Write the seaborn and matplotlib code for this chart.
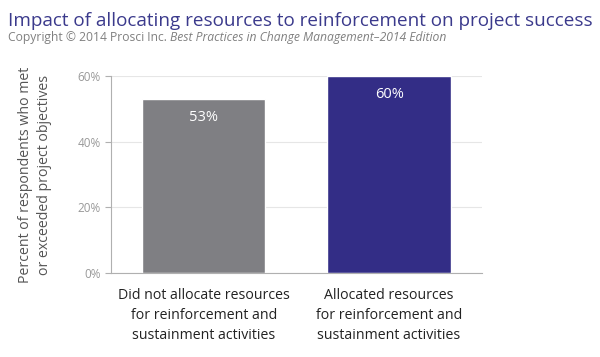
import matplotlib
matplotlib.use('Agg')
import matplotlib.pyplot as plt
import seaborn as sns
import pandas as pd
from matplotlib.ticker import FuncFormatter

categories = ['Did not allocate resources\nfor reinforcement and\nsustainment activities',
              'Allocated resources\nfor reinforcement and\nsustainment activities']
values = [53, 60]
bar_colors = ['#7f7f83', '#332d86']
y_ticks = [0, 20, 40, 60]

df = pd.DataFrame({'group': categories, 'pct': values})

sns.set_style('white')
plt.rcParams['font.family'] = ['Open Sans', 'DejaVu Sans']

fig = plt.figure(figsize=(6, 3.57), dpi=100)
ax = fig.add_axes([0.185, 0.235, 0.618, 0.552])

sns.barplot(data=df, x='group', y='pct', hue='group', palette=bar_colors,
            width=0.665, saturation=1, legend=False, ax=ax)

ax.set_ylim(0, 60)
ax.set_xlim(-0.5, 1.5)
ax.set_yticks(y_ticks)
ax.yaxis.set_major_formatter(FuncFormatter(lambda v, _: f'{v:.0f}%'))
ax.grid(True, axis='y', color='#e6e6e6', linewidth=0.8)
ax.set_axisbelow(True)

for s in ['top', 'right']:
    ax.spines[s].set_visible(False)
for s in ['left', 'bottom']:
    ax.spines[s].set_color('#b0b0b0')
    ax.spines[s].set_linewidth(0.8)

# ticks at category boundaries on the x axis
ax.set_xticks([-0.5, 0.5, 1.5], minor=True)
ax.tick_params(axis='x', which='minor', length=4, color='#b0b0b0', width=0.8)
ax.tick_params(axis='x', which='major', length=0, labelsize=10.2,
               labelcolor='#222222', pad=11)
for lbl in ax.get_xticklabels():
    lbl.set_linespacing(1.45)
ax.tick_params(axis='y', length=4, color='#b0b0b0', width=0.8,
               labelsize=8.5, labelcolor='#999999', left=True)

ax.set_xlabel('')
ax.set_ylabel('Percent of respondents who met\nor exceeded project objectives',
              fontsize=10.2, color='#555555', labelpad=18, linespacing=1.35)

for i, v in enumerate(values):
    ax.text(i, v - 5.6, f'{v}%', ha='center', va='center', color='white', fontsize=10.5)

fig.text(0.013, 0.941, 'Impact of allocating resources to reinforcement on project success',
         fontsize=13.6, color='#3b3a8c', ha='left', va='center')
cp = fig.text(0.013, 0.895, 'Copyright \u00a9 2014 Prosci Inc. ', fontsize=8.7,
              color='#808080', ha='left', va='center')
fig.canvas.draw()
ext = cp.get_window_extent()
fig.text(ext.x1 / fig.bbox.width, 0.895,
         'Best Practices in Change Management\u20132014 Edition',
         fontsize=8.7, color='#808080', ha='left', va='center', style='italic')

fig.savefig('out.png', dpi=100)
